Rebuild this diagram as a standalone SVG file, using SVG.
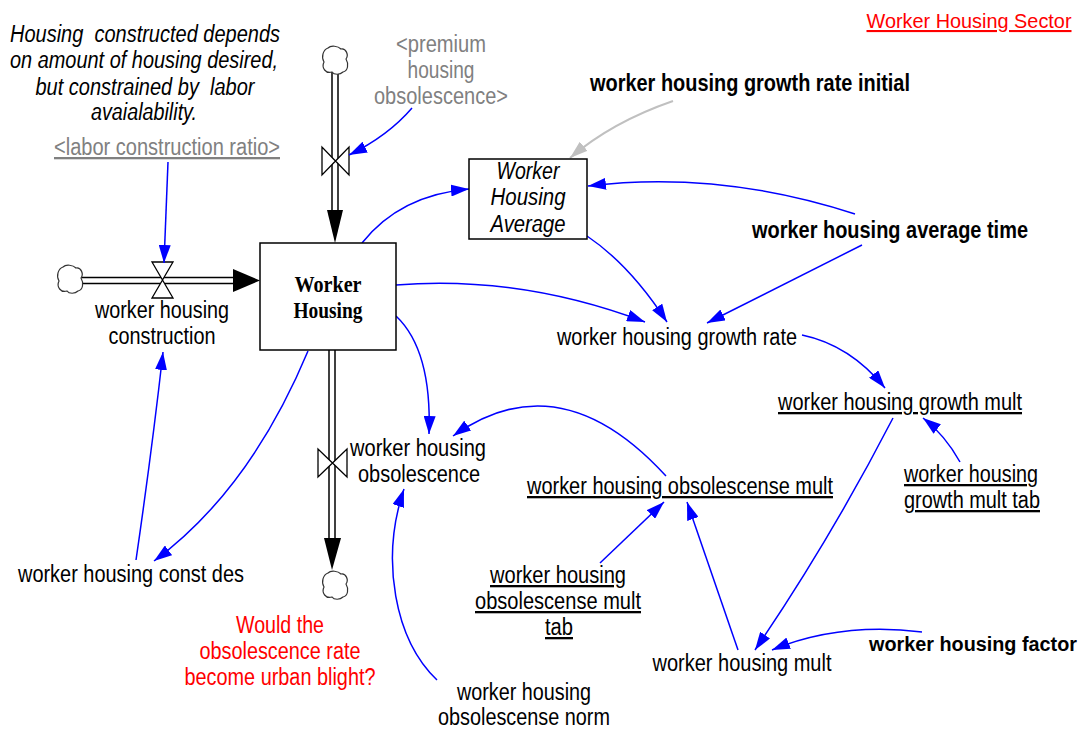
<svg xmlns="http://www.w3.org/2000/svg" width="1086" height="732" viewBox="0 0 1086 732">
  <style>
    text { font-family: "Liberation Sans", Arial, sans-serif; font-size: 23px; fill: #000; }
    .bold { font-weight: bold; }
    .ital { font-style: italic; }
    .serif { font-family: "Liberation Serif", "Times New Roman", serif; font-weight: bold; font-size: 24px; }
    .shadow { fill: #808080; }
    .note { fill: #FF0000; }
    .ul { text-decoration: underline; }
    .mid { text-anchor: middle; }
    .edge { font-size: 21px; }
    .edge-tight { font-size: 20px; }
    .link { fill: none; stroke: #0000FF; stroke-width: 1.5; marker-end: url(#arrowBlue); }
    .link-gray { fill: none; stroke: #C0C0C0; stroke-width: 2; marker-end: url(#arrowGray); }
    .pipe-outer { stroke: #000; stroke-width: 7.5; fill: none; }
    .pipe-inner { stroke: #fff; stroke-width: 4.5; fill: none; }
    .valve { fill: #fff; stroke: #000; stroke-width: 1.3; }
    .box { fill: #fff; stroke: #000; stroke-width: 1.5; }
  </style>
  <defs>
    <marker id="arrowBlue" viewBox="0 0 18 12" refX="18" refY="6" markerWidth="18" markerHeight="12" markerUnits="userSpaceOnUse" orient="auto">
      <path d="M0,0 L18,6 L0,12 Z" fill="#0000FF"/>
    </marker>
    <marker id="arrowGray" viewBox="0 0 18 12" refX="18" refY="6" markerWidth="18" markerHeight="12" markerUnits="userSpaceOnUse" orient="auto">
      <path d="M0,0 L18,6 L0,12 Z" fill="#C0C0C0"/>
    </marker>
    <!-- source / sink cloud -->
    <path id="cloud" d="M-7,-13 C-4,-16 3,-15 6,-12 C11,-13 14,-6 11,-2 C14,3 13,10 8,11 C5,14 -1,14 -3,11 C-9,13 -14,7 -11,1 C-14,-4 -12,-11 -7,-13 Z" fill="#fff" stroke="#333" stroke-width="1.2"/>
  </defs>

  <!-- annotations -->
  <g id="title">
    <text class="note ul mid edge" x="969" y="28" textLength="205" lengthAdjust="spacingAndGlyphs">Worker Housing Sector</text>
  </g>
  <g id="comment-construction">
    <text class="ital mid" x="145" y="42" textLength="270" lengthAdjust="spacingAndGlyphs">Housing&#160; constructed depends</text>
    <text class="ital mid" x="144" y="68" textLength="268" lengthAdjust="spacingAndGlyphs">on amount of housing desired,</text>
    <text class="ital mid" x="145" y="95" textLength="219" lengthAdjust="spacingAndGlyphs">but constrained by&#160; labor</text>
    <text class="ital mid" x="144" y="120" textLength="106" lengthAdjust="spacingAndGlyphs">avaialability.</text>
  </g>
  <g id="comment-blight">
    <text class="note mid" x="280" y="633" textLength="88" lengthAdjust="spacingAndGlyphs">Would the</text>
    <text class="note mid" x="280" y="659" textLength="161" lengthAdjust="spacingAndGlyphs">obsolescence rate</text>
    <text class="note mid" x="280" y="685" textLength="191" lengthAdjust="spacingAndGlyphs">become urban blight?</text>
  </g>

  <!-- flows: pipes, valves, clouds -->
  <g id="flow-construction">
    <line class="pipe-outer" x1="80" y1="280.5" x2="236" y2="280.5"/>
    <line class="pipe-inner" x1="79" y1="280.5" x2="237" y2="280.5"/>
    <polygon points="233,269 260,280.5 233,292" fill="#000"/>
    <use href="#cloud" x="70" y="280"/>
    <polygon class="valve" points="152,262 173,262 162.5,280 152,298 173,298 162.5,280"/>
  </g>
  <g id="flow-premium">
    <line class="pipe-outer" x1="335" y1="71" x2="335" y2="213"/>
    <line class="pipe-inner" x1="335" y1="70" x2="335" y2="214"/>
    <polygon points="327,210 335,243 343,210" fill="#000"/>
    <use href="#cloud" x="335" y="61"/>
    <polygon class="valve" points="322,147 322,175 335.5,161 349,147 349,175 335.5,161"/>
  </g>
  <g id="flow-obsolescence">
    <line class="pipe-outer" x1="332" y1="350" x2="332" y2="541"/>
    <line class="pipe-inner" x1="332" y1="350" x2="332" y2="542"/>
    <polygon points="324,538 332,570 341,538" fill="#000"/>
    <use href="#cloud" x="335" y="586"/>
    <polygon class="valve" points="318,449 318,477 332.5,463 347,449 347,477 332.5,463"/>
  </g>

  <!-- connectors -->
  <g id="connectors">
    <path class="link" d="M412,108 Q388,136 349,155"/>
    <path class="link" d="M168,162 L164,263"/>
    <path class="link" d="M136,560 Q152,450 163,352"/>
    <path class="link" d="M308,351 Q250,490 154,561"/>
    <path class="link" d="M396,316 Q432,350 429,434"/>
    <path class="link" d="M666,476 Q560,360 453,436"/>
    <path class="link" d="M437,680 C395,640 380,560 404,489"/>
    <path class="link" d="M362,243 Q400,195 469,189"/>
    <path class="link" d="M855,214 Q720,170 588,186"/>
    <path class="link" d="M587,236 Q630,265 667,322"/>
    <path class="link" d="M396,285 Q520,275 645,322"/>
    <path class="link" d="M862,245 L707,323"/>
    <path class="link" d="M802,335 Q850,345 885,388"/>
    <path class="link" d="M960,462 Q945,435 923,418"/>
    <path class="link" d="M893,418 Q830,540 755,650"/>
    <path class="link" d="M600,563 L664,502"/>
    <path class="link" d="M738,650 L687,502"/>
    <path class="link" d="M922,632 Q840,622 772,650"/>
    <path class="link-gray" d="M673,101 Q612,122 570,158"/>
  </g>

  <!-- stocks -->
  <g id="worker-housing">
    <rect class="box" x="260" y="243" width="136" height="107"/>
    <text class="serif mid" x="328" y="292" textLength="67" lengthAdjust="spacingAndGlyphs">Worker</text>
    <text class="serif mid" x="328" y="318" textLength="69" lengthAdjust="spacingAndGlyphs">Housing</text>
  </g>
  <g id="worker-housing-average">
    <rect class="box" x="469" y="159" width="118" height="80"/>
    <text class="ital mid" x="528" y="179" textLength="63" lengthAdjust="spacingAndGlyphs">Worker</text>
    <text class="ital mid" x="528" y="205" textLength="75" lengthAdjust="spacingAndGlyphs">Housing</text>
    <text class="ital mid" x="528" y="232" textLength="75" lengthAdjust="spacingAndGlyphs">Average</text>
  </g>

  <!-- flow rate labels -->
  <g id="worker-housing-construction">
    <text class="mid" x="162" y="318" textLength="134" lengthAdjust="spacingAndGlyphs">worker housing</text>
    <text class="mid" x="162" y="344" textLength="107" lengthAdjust="spacingAndGlyphs">construction</text>
  </g>
  <g id="worker-housing-obsolescence">
    <text class="mid" x="418" y="456" textLength="136" lengthAdjust="spacingAndGlyphs">worker housing</text>
    <text class="mid" x="419" y="482" textLength="122" lengthAdjust="spacingAndGlyphs">obsolescence</text>
  </g>

  <!-- shadow variables -->
  <g id="labor-construction-ratio">
    <text class="shadow ul mid" x="167" y="155" textLength="226" lengthAdjust="spacingAndGlyphs">&lt;labor construction ratio&gt;</text>
  </g>
  <g id="premium-housing-obsolescence">
    <text class="shadow mid" x="441" y="52" textLength="90" lengthAdjust="spacingAndGlyphs">&lt;premium</text>
    <text class="shadow mid" x="441" y="78" textLength="67" lengthAdjust="spacingAndGlyphs">housing</text>
    <text class="shadow mid" x="441" y="104" textLength="134" lengthAdjust="spacingAndGlyphs">obsolescence&gt;</text>
  </g>

  <!-- auxiliaries and constants -->
  <g id="worker-housing-growth-rate-initial">
    <text class="bold mid" x="750" y="91" textLength="320" lengthAdjust="spacingAndGlyphs">worker housing growth rate initial</text>
  </g>
  <g id="worker-housing-average-time">
    <text class="bold mid" x="890" y="238" textLength="276" lengthAdjust="spacingAndGlyphs">worker housing average time</text>
  </g>
  <g id="worker-housing-growth-rate">
    <text class="mid" x="677" y="345" textLength="240" lengthAdjust="spacingAndGlyphs">worker housing growth rate</text>
  </g>
  <g id="worker-housing-growth-mult">
    <text class="ul mid" x="900" y="410" textLength="244" lengthAdjust="spacingAndGlyphs">worker housing growth mult</text>
  </g>
  <g id="worker-housing-growth-mult-tab">
    <text class="ul mid" x="971" y="482" textLength="134" lengthAdjust="spacingAndGlyphs">worker housing</text>
    <text class="ul mid" x="972" y="508" textLength="136" lengthAdjust="spacingAndGlyphs">growth mult tab</text>
  </g>
  <g id="worker-housing-obsolescense-mult">
    <text class="ul mid" x="680" y="494" textLength="306" lengthAdjust="spacingAndGlyphs">worker housing obsolescense mult</text>
  </g>
  <g id="worker-housing-obsolescense-mult-tab">
    <text class="ul mid" x="558" y="583" textLength="136" lengthAdjust="spacingAndGlyphs">worker housing</text>
    <text class="ul mid" x="558" y="609" textLength="166" lengthAdjust="spacingAndGlyphs">obsolescense mult</text>
    <text class="ul mid" x="559" y="635" textLength="28" lengthAdjust="spacingAndGlyphs">tab</text>
  </g>
  <g id="worker-housing-mult">
    <text class="mid" x="742" y="671" textLength="179" lengthAdjust="spacingAndGlyphs">worker housing mult</text>
  </g>
  <g id="worker-housing-factor">
    <text class="bold mid edge-tight" x="973" y="651" textLength="208" lengthAdjust="spacingAndGlyphs">worker housing factor</text>
  </g>
  <g id="worker-housing-const-des">
    <text class="mid" x="131" y="582" textLength="226" lengthAdjust="spacingAndGlyphs">worker housing const des</text>
  </g>
  <g id="worker-housing-obsolescense-norm">
    <text class="mid" x="524" y="700" textLength="134" lengthAdjust="spacingAndGlyphs">worker housing</text>
    <text class="mid" x="524" y="725" textLength="172" lengthAdjust="spacingAndGlyphs">obsolescense norm</text>
  </g>
</svg>
